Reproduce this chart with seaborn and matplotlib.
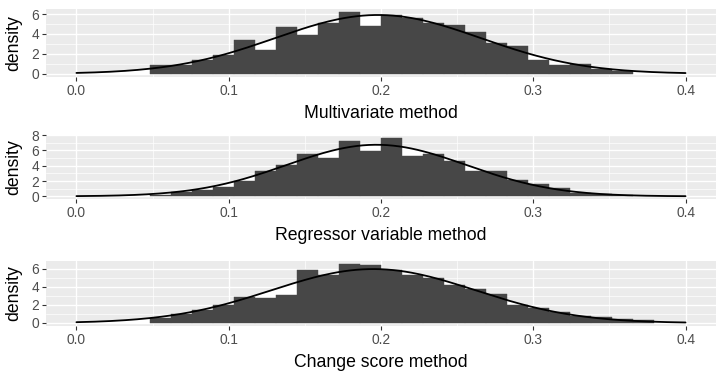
import numpy as np
import pandas as pd
import matplotlib
matplotlib.use("Agg")
from matplotlib import pyplot as plt
from matplotlib import ticker
import seaborn as sns

# x labels of the three panels
methods = ["Multivariate method", "Regressor variable method", "Change score method"]

# histogram bins: 30 bins over 0..0.4 (ggplot default), first filled bin is #4
bin_width = 0.4 / 29
first_bin = 4

# bar heights (density), one list per panel
multivariate_density = [0.9, 0.85, 1.4, 1.9, 3.35, 2.4, 4.65, 3.9, 5.1, 6.2, 4.8, 5.9,
                        5.6, 5.1, 4.9, 4.2, 3.1, 2.75, 1.35, 0.85, 1.0, 0.5, 0.3]
regressor_density = [0.15, 0.5, 0.85, 1.2, 1.95, 3.35, 4.1, 5.55, 5.0, 7.2, 5.9, 7.6,
                     5.3, 5.5, 4.65, 3.35, 3.25, 2.1, 1.6, 1.1, 0.45, 0.3, 0.15]
change_score_density = [0.6, 1.0, 1.4, 2.0, 2.9, 2.8, 3.1, 5.85, 5.25, 6.5, 6.35, 5.8,
                        5.25, 4.95, 4.15, 3.8, 3.2, 1.95, 1.65, 1.2, 0.75, 0.7, 0.45, 0.35]

# fitted normal curve drawn over each histogram
curve_means = [0.198, 0.197, 0.195]
curve_sds = [0.0676, 0.0591, 0.0670]

y_ticks = [[0, 2, 4, 6], [0, 2, 4, 6, 8], [0, 2, 4, 6]]

# axes boxes in figure coords (left, bottom, width, height)
panel_boxes = [
    (0.0636, 0.7935, 0.9267, 0.1825),
    (0.0636, 0.4645, 0.9267, 0.1720),
    (0.0636, 0.1239, 0.9267, 0.1740),
]

sns.set_theme(style="white")
plt.rcParams["font.family"] = ["Liberation Sans", "DejaVu Sans"]

fig = plt.figure(figsize=(7.23, 3.72), dpi=100)

for i, heights in enumerate([multivariate_density, regressor_density, change_score_density]):
    ax = fig.add_axes(panel_boxes[i])
    ax.set_facecolor("#EBEBEB")

    n = len(heights)
    centers = (np.arange(n) + first_bin) * bin_width
    df = pd.DataFrame({"x": centers, "density": heights})
    bin_range = ((first_bin - 0.5) * bin_width, (first_bin + n - 0.5) * bin_width)

    grid_x = np.linspace(0, 0.4, 201)
    mu, sd = curve_means[i], curve_sds[i]
    curve = pd.DataFrame({
        "x": grid_x,
        "y": np.exp(-0.5 * ((grid_x - mu) / sd) ** 2) / (sd * np.sqrt(2 * np.pi)),
    })

    # white area under the curve shows where bars fall short of it
    ax.fill_between(curve["x"], curve["y"], color="white", linewidth=0)
    sns.histplot(data=df, x="x", weights="density", binwidth=bin_width, binrange=bin_range,
                 stat="count", color="#474747", alpha=1, edgecolor="#474747",
                 linewidth=0.3, ax=ax)
    sns.lineplot(data=curve, x="x", y="y", color="black", linewidth=1.3, ax=ax)

    ymax = max(max(heights), curve["y"].max())
    ax.set_ylim(-0.05 * ymax, 1.05 * ymax)
    ax.set_xlim(-0.02, 0.42)

    ax.set_xticks([0.0, 0.1, 0.2, 0.3, 0.4])
    ax.xaxis.set_major_formatter(ticker.FormatStrFormatter("%.1f"))
    ax.set_yticks(y_ticks[i])
    ax.xaxis.set_minor_locator(ticker.MultipleLocator(0.05))
    ax.yaxis.set_minor_locator(ticker.MultipleLocator(1))

    ax.set_axisbelow(True)
    ax.grid(True, which="major", color="white", linewidth=1.0)
    ax.grid(True, which="minor", color="white", linewidth=0.5)
    for s in ax.spines.values():
        s.set_visible(False)

    ax.tick_params(which="major", length=2.75, width=0.8, color="#333333",
                   labelsize=9.9, labelcolor="#4D4D4D", pad=2.2,
                   bottom=True, left=True)
    ax.tick_params(which="minor", length=0)

    ax.set_xlabel(methods[i], fontsize=12.7, color="black", labelpad=5)
    ax.set_ylabel("density", fontsize=12.7, color="black", labelpad=6.5)

fig.savefig("out.png", dpi=100, facecolor="white")
